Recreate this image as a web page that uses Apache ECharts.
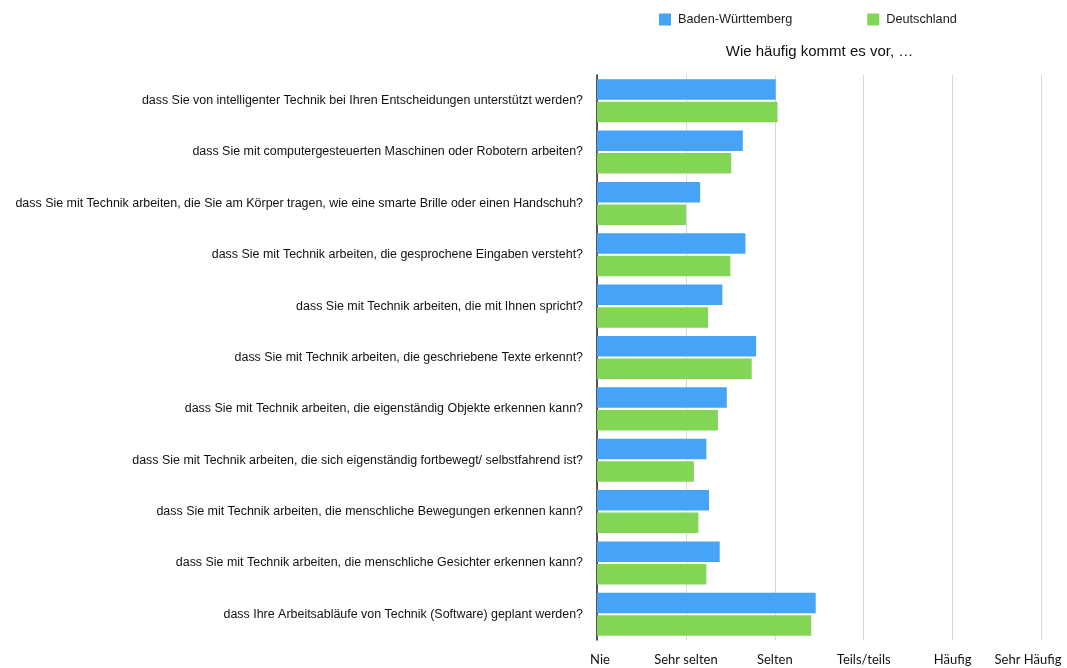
<!DOCTYPE html>
<html>
<head>
<meta charset="utf-8">
<script src="https://cdn.jsdelivr.net/npm/echarts@6/dist/echarts.min.js"></script>
<style>
html,body{margin:0;padding:0;background:#fff;}
#chart{width:1067px;height:668px;}
</style>
</head>
<body>
<div id="chart"></div>
<script>
const categories = [
  "dass Sie von intelligenter Technik bei Ihren Entscheidungen unterstützt werden?",
  "dass Sie mit computergesteuerten Maschinen oder Robotern arbeiten?",
  "dass Sie mit Technik arbeiten, die Sie am Körper tragen, wie eine smarte Brille oder einen Handschuh?",
  "dass Sie mit Technik arbeiten, die gesprochene Eingaben versteht?",
  "dass Sie mit Technik arbeiten, die mit Ihnen spricht?",
  "dass Sie mit Technik arbeiten, die geschriebene Texte erkennt?",
  "dass Sie mit Technik arbeiten, die eigenständig Objekte erkennen kann?",
  "dass Sie mit Technik arbeiten, die sich eigenständig fortbewegt/ selbstfahrend ist?",
  "dass Sie mit Technik arbeiten, die menschliche Bewegungen erkennen kann?",
  "dass Sie mit Technik arbeiten, die menschliche Gesichter erkennen kann?",
  "dass Ihre Arbeitsabläufe von Technik (Software) geplant werden?"
];
const badenWuerttemberg = [3.01, 2.64, 2.16, 2.67, 2.41, 2.79, 2.46, 2.23, 2.26, 2.38, 3.46];
const deutschland       = [3.03, 2.51, 2.00, 2.50, 2.25, 2.74, 2.36, 2.09, 2.14, 2.23, 3.41];
const scaleLabels = ["Nie", "Sehr selten", "Selten", "Teils/teils", "Häufig", "Sehr Häufig"];
const seriesNames = ["Baden-Württemberg", "Deutschland"];
const titleText = "Wie häufig kommt es vor, …";

const chart = echarts.init(document.getElementById('chart'), null, {renderer: 'canvas'});
const sans = '"Liberation Sans", Arial, Helvetica, sans-serif';
chart.setOption({
  animation: false,
  backgroundColor: '#ffffff',
  title: {
    text: titleText,
    left: 814.5, top: 39, textAlign: 'center',
    textStyle: {fontFamily: sans, fontSize: 15, fontWeight: 'normal', color: '#111'}
  },
  legend: {
    left: 659, top: 13, padding: 0,
    itemWidth: 12, itemHeight: 12, itemGap: 75,
    icon: 'rect',
    textStyle: {fontFamily: sans, fontSize: 12.7, color: '#1a1a1a', padding: [0, 0, 0, 2]},
    data: seriesNames
  },
  grid: {left: 597, right: 25.5, top: 75, bottom: 28, containLabel: false},
  xAxis: {
    type: 'value', min: 1, max: 6, interval: 1,
    axisLine: {show: false}, axisTick: {show: false},
    splitLine: {show: true, lineStyle: {color: '#d9d9d9', width: 1}},
    axisLabel: {
      margin: 13,
      fontFamily: 'Lato, sans-serif', fontSize: 13, color: '#111',
      formatter: function (v) {
        const i = Math.round(v) - 1;
        if (i === scaleLabels.length - 1) return '{last|' + scaleLabels[i] + '}';
        if (i === 0) return '{first|' + scaleLabels[i] + '}';
        return scaleLabels[i] || '';
      },
      rich: {
        last: {fontFamily: 'Lato, sans-serif', fontSize: 13, color: '#111', padding: [0, 27, 0, 0]},
        first: {fontFamily: 'Lato, sans-serif', fontSize: 13, color: '#111', padding: [0, 0, 0, 6]}
      }
    }
  },
  yAxis: {
    type: 'category', data: categories, inverse: true,
    axisLine: {show: true, lineStyle: {color: '#222', width: 1.5}},
    axisTick: {show: false},
    axisLabel: {margin: 14, fontFamily: sans, fontSize: 12.45, color: '#111'}
  },
  series: [
    {
      name: seriesNames[0], type: 'bar', data: badenWuerttemberg,
      barWidth: 20.5, barGap: '10%',
      itemStyle: {color: '#45a3f8'}
    },
    {
      name: seriesNames[1], type: 'bar', data: deutschland,
      barWidth: 20.5, barGap: '10%',
      itemStyle: {color: '#83d556'}
    }
  ]
});
</script>
</body>
</html>
